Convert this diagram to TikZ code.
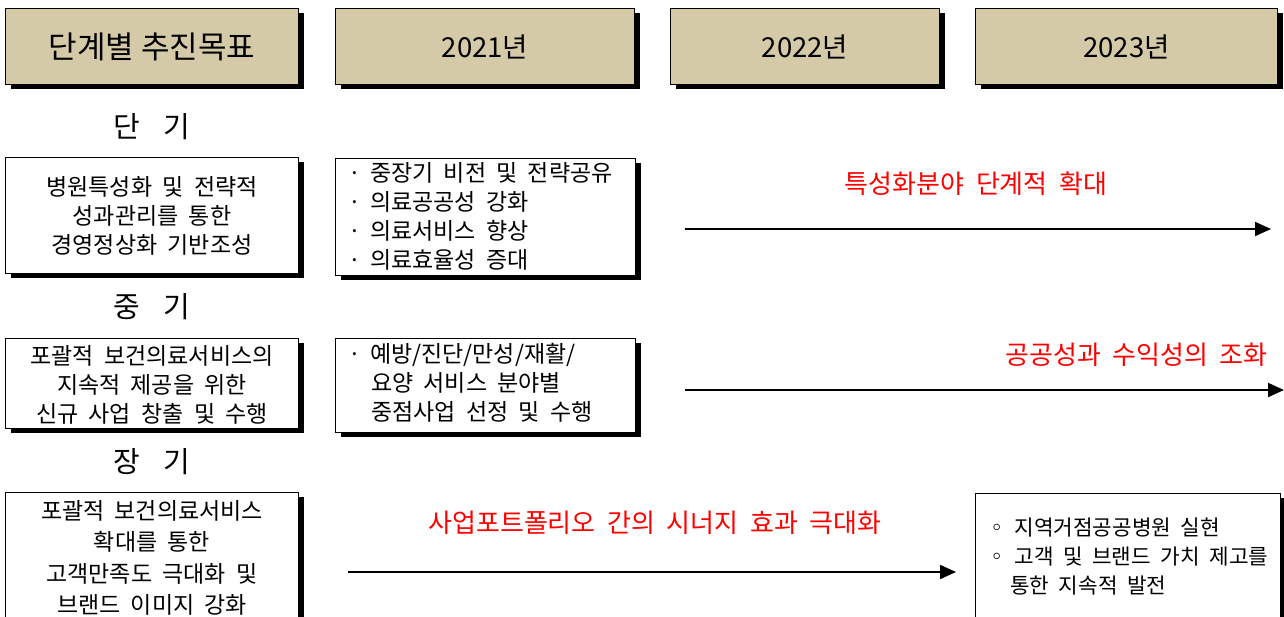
\documentclass[tikz,border=0pt]{standalone}
\usepackage{fontspec}
\newfontfamily\kr[WordSpace=2.0]{Noto Sans CJK KR}
\usetikzlibrary{arrows.meta,shadows}
\definecolor{tan}{RGB}{213,202,168}
\definecolor{redtxt}{RGB}{255,0,0}
\begin{document}
\begin{tikzpicture}[x=1pt,y=-1pt,
  sbox/.style={draw=black, line width=1.2pt, fill=white, inner sep=0pt, anchor=north west,
    drop shadow={shadow xshift=5pt, shadow yshift=-4pt, fill=black, opacity=1}},
  hbox/.style={sbox, fill=tan, font=\kr\fontsize{27.5}{32}\selectfont},
  body/.style={font=\kr\fontsize{23}{29}\selectfont},
  rlabel/.style={font=\kr\fontsize{26}{28}\selectfont, text=redtxt, inner sep=0pt},
  term/.style={font=\kr\fontsize{29}{32}\selectfont, inner sep=0pt},
  arr/.style={line width=1.8pt, -{Triangle[length=16pt,width=14pt]}}
]
\clip (0,0) rectangle (1284,616);
% header
\node[hbox, minimum width=293, minimum height=76, font=\kr\fontsize{31}{32}\selectfont] (h1) at (5,8) {단계별\hspace{7pt}추진목표};
\node[hbox, minimum width=299, minimum height=76] (h2) at (335,8) {2021년};
\node[hbox, minimum width=269, minimum height=76] (h3) at (670,8) {2022년};
\node[hbox, minimum width=302, minimum height=76] (h4) at (975,8) {2023년};
% terms
\node[term] (t1) at (152,127) {단\hspace{24pt}기};
\node[term] (t2) at (152,307) {중\hspace{24pt}기};
\node[term] (t3) at (152,462) {장\hspace{24pt}기};
% row 1
\node[sbox, minimum width=293, minimum height=116] (l1) at (5,157) {};
\node[body, align=center] (l1t) at (152,216) {병원특성화 및 전략적\\성과관리를 통한\\경영정상화 기반조성};
\node[sbox, minimum width=300, minimum height=117] (m1) at (335,158) {};
\node[body, align=left, anchor=north west, inner sep=0pt] (m1t) at (348,162)
  {·\hspace{9pt}중장기 비전 및 전략공유\\·\hspace{9pt}의료공공성 강화\\·\hspace{9pt}의료서비스 향상\\·\hspace{9pt}의료효율성 증대};
\coordinate (a1s) at (685,229);
\coordinate (a1e) at (1271,229);
\draw[arr] (a1s) -- (a1e);
\node[rlabel] (r1) at (976,184) {특성화분야 단계적 확대};
% row 2
\node[sbox, minimum width=293, minimum height=90] (l2) at (5,338) {};
\node[body, align=center] (l2t) at (152,385) {포괄적 보건의료서비스의\\지속적 제공을 위한\\신규 사업 창출 및 수행};
\node[sbox, minimum width=300, minimum height=94] (m2) at (335,338) {};
\node[body, align=left, anchor=north west, inner sep=0pt] (m2t) at (348,343)
  {·\hspace{9pt}예방/진단/만성/재활/\\\hspace{23pt}요양 서비스 분야별\\\hspace{23pt}중점사업 선정 및 수행};
\coordinate (a2s) at (685,390);
\coordinate (a2e) at (1284,390);
\draw[arr] (a2s) -- (a2e);
\node[rlabel, anchor=east] (r2) at (1268,355) {공공성과 수익성의 조화};
% row 3
\node[sbox, minimum width=293, minimum height=140] (l3) at (5,492) {};
\node[body, align=center, anchor=north, inner sep=0pt, font=\kr\fontsize{23}{31.5}\selectfont] (l3t) at (152,500)
  {포괄적 보건의료서비스\\확대를 통한\\고객만족도 극대화 및\\브랜드 이미지 강화};
\node[sbox, minimum width=305, minimum height=140] (rb3) at (975,493) {};
\node[align=left, anchor=north west, inner sep=0pt, font=\kr\fontsize{21.3}{29}\selectfont] (rb3t) at (986,518)
  {◦\hspace{7pt}지역거점공공병원 실현\\◦\hspace{7pt}고객 및 브랜드 가치 제고를\\\hspace{24pt}통한 지속적 발전};
\coordinate (a3s) at (348,572);
\coordinate (a3e) at (956,572);
\draw[arr] (a3s) -- (a3e);
\node[rlabel] (r3) at (655,523) {사업포트폴리오 간의 시너지 효과 극대화};
\end{tikzpicture}
\end{document}
